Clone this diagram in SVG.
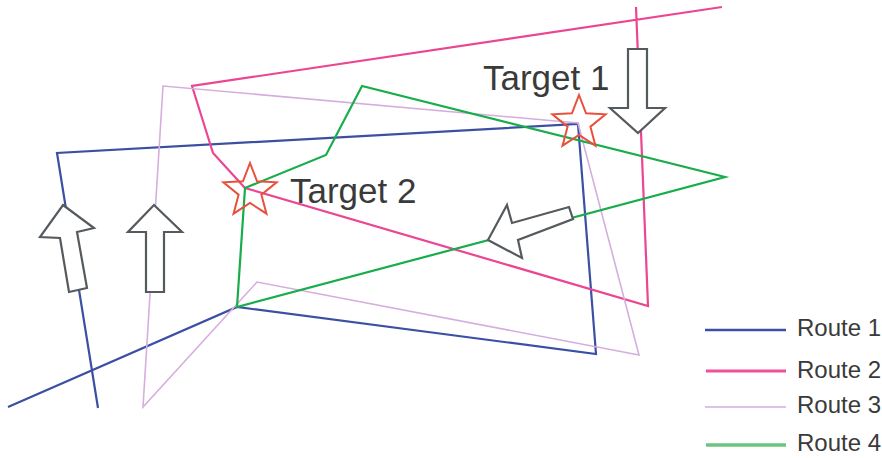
<svg xmlns="http://www.w3.org/2000/svg" xmlns:xlink="http://www.w3.org/1999/xlink" width="882" height="458" viewBox="0 0 882 458">
<style>
.route{fill:none;stroke-linejoin:miter;stroke-linecap:butt}
.r1{stroke:#3b4fa3;stroke-width:2.2}
.r2{stroke:#ec4592;stroke-width:2.2}
.r3{stroke:#d6aede;stroke-width:1.6}
.r4{stroke:#17ad4a;stroke-width:2.2}
.star{fill:none;stroke:#e8503c;stroke-width:2;stroke-linejoin:miter}
.arrow{fill:#ffffff;stroke:#555a5e;stroke-width:2.2;stroke-linejoin:miter}
.lbl{font-family:"Liberation Sans",Arial,sans-serif;fill:#3a3a3a}
.big{font-size:35px}
.leg{font-size:24px}
</style>
<defs>
<polygon id="starShape" points="0,-28 7.05,-9.71 26.63,-8.65 11.41,3.71 16.46,22.65 0,12 -16.46,22.65 -11.41,3.71 -26.63,-8.65 -7.05,-9.71"/>
</defs>
<rect width="882" height="458" fill="#ffffff"/>
<g id="connectors">
<path id="route1" class="route r1" d="M98,408 L57,153 L578,124 L596,354 L237,307 L8,407"/>
<path id="route2" class="route r2" d="M636,7 L648,306 L245,188 L213,153 L192,86 L722,7"/>
<path id="route3" class="route r3" d="M143,407 L163,86 L578,123 L639,355 L257,282 Z"/>
<path id="route4" class="route r4" d="M237,307 L245,188 L326,155 L362,86 L725,177 Z"/>
</g>
<g id="target1">
<use xlink:href="#starShape" class="star" transform="translate(579,123)"/>
<text class="lbl big" x="483" y="90">Target 1</text>
</g>
<g id="target2">
<use xlink:href="#starShape" class="star" transform="translate(250,191)"/>
<text class="lbl big" x="290" y="203">Target 2</text>
</g>
<g id="arrow-down">
<polygon class="arrow" points="628,49 647,49 647,108 665,108 638,133 610,108 628,108"/>
</g>
<g id="arrow-left">
<polygon class="arrow" points="488,240 507,205 512,223 569,207 573,219 518,240 522,258"/>
</g>
<g id="arrow-up1">
<polygon class="arrow" points="63,205 94,228 77,232 87,288 69,292 60,238 40,237"/>
</g>
<g id="arrow-up2">
<polygon class="arrow" points="154,205 182,232 164,232 164,292 146,292 146,232 128,232"/>
</g>
<g id="legend">
<g id="legend-route1">
<line x1="705" y1="330" x2="786" y2="330" stroke="#3b4fa3" stroke-width="2.6"/>
<text class="lbl leg" x="797" y="336">Route 1</text>
</g>
<g id="legend-route2">
<line x1="706" y1="371" x2="786" y2="371" stroke="#ee519a" stroke-width="3"/>
<text class="lbl leg" x="797" y="378">Route 2</text>
</g>
<g id="legend-route3">
<line x1="705" y1="407" x2="786" y2="407" stroke="#d6aede" stroke-width="1.6"/>
<text class="lbl leg" x="797" y="413">Route 3</text>
</g>
<g id="legend-route4">
<line x1="706" y1="445" x2="786" y2="445" stroke="#6cc47f" stroke-width="3.5"/>
<text class="lbl leg" x="797" y="451">Route 4</text>
</g>
</g>
</svg>
